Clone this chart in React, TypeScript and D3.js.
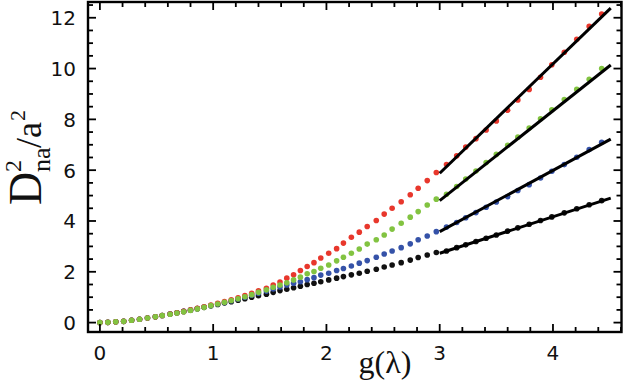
import React from "react";
import * as d3 from "d3";

const G = [0, 0.07, 0.14, 0.21, 0.28, 0.35, 0.42, 0.49, 0.55, 0.62, 0.68, 0.74, 0.80, 0.86, 0.92, 0.98, 1.04, 1.10, 1.16, 1.22, 1.28, 1.34, 1.40, 1.47, 1.53, 1.59, 1.65, 1.71, 1.77, 1.83, 1.89, 1.95, 2.02, 2.09, 2.15, 2.22, 2.29, 2.36, 2.44, 2.51, 2.58, 2.66, 2.74, 2.81, 2.89, 2.97, 3.06, 3.15, 3.23, 3.32, 3.41, 3.50, 3.60, 3.69, 3.79, 3.89, 3.99, 4.10, 4.21, 4.32, 4.43];

const RED = [0, 0.01, 0.03, 0.05, 0.09, 0.13, 0.18, 0.23, 0.28, 0.34, 0.39, 0.44, 0.50, 0.56, 0.62, 0.69, 0.76, 0.83, 0.90, 0.98, 1.06, 1.15, 1.25, 1.35, 1.48, 1.60, 1.75, 1.88, 2.05, 2.21, 2.36, 2.54, 2.73, 2.91, 3.13, 3.36, 3.56, 3.78, 4.02, 4.27, 4.50, 4.76, 5.03, 5.29, 5.59, 5.91,
  6.22, 6.57, 6.91, 7.24, 7.58, 7.94, 8.36, 8.76, 9.18, 9.66, 10.15, 10.64, 11.15, 11.66, 12.15];
const GREEN = [0, 0.01, 0.03, 0.05, 0.09, 0.13, 0.18, 0.23, 0.28, 0.33, 0.38, 0.43, 0.48, 0.54, 0.60, 0.67, 0.73, 0.80, 0.87, 0.94, 1.02, 1.10, 1.19, 1.29, 1.39, 1.48, 1.57, 1.68, 1.79, 1.92, 2.01, 2.14, 2.27, 2.43, 2.57, 2.73, 2.90, 3.09, 3.26, 3.45, 3.68, 3.91, 4.15, 4.37, 4.63, 4.86,
  5.05, 5.36, 5.65, 5.97, 6.30, 6.62, 6.98, 7.30, 7.66, 8.02, 8.38, 8.78, 9.18, 9.58, 10.0];
const BLUE = [0, 0.01, 0.03, 0.05, 0.09, 0.13, 0.18, 0.23, 0.28, 0.34, 0.39, 0.44, 0.49, 0.55, 0.61, 0.67, 0.73, 0.79, 0.86, 0.93, 1.00, 1.08, 1.16, 1.24, 1.32, 1.40, 1.48, 1.55, 1.61, 1.69, 1.77, 1.87, 1.94, 2.05, 2.13, 2.23, 2.34, 2.44, 2.57, 2.70, 2.82, 2.95, 3.10, 3.26, 3.41, 3.58,
  3.76, 3.94, 4.13, 4.33, 4.54, 4.75, 4.96, 5.20, 5.43, 5.69, 5.96, 6.22, 6.51, 6.81, 7.10];
const BLACK = [0, 0.01, 0.03, 0.05, 0.09, 0.13, 0.18, 0.23, 0.28, 0.34, 0.39, 0.44, 0.49, 0.55, 0.60, 0.66, 0.71, 0.77, 0.82, 0.88, 0.94, 1.00, 1.06, 1.12, 1.19, 1.26, 1.31, 1.37, 1.43, 1.50, 1.55, 1.61, 1.68, 1.75, 1.81, 1.88, 1.94, 2.02, 2.10, 2.19, 2.27, 2.36, 2.46, 2.56, 2.66, 2.76,
  2.82, 2.95, 3.06, 3.19, 3.32, 3.45, 3.60, 3.73, 3.87, 4.02, 4.16, 4.32, 4.48, 4.64, 4.80];

const FIT_G = [3.0, 4.51];
const FIT_RED = [5.88, 12.38];
const FIT_GREEN = [4.80, 10.14];
const FIT_BLUE = [3.58, 7.22];
const FIT_BLACK = [2.73, 4.90];

const X_TICKS = [0, 1, 2, 3, 4];
const Y_TICKS = [0, 2, 4, 6, 8, 10, 12];

const W = 623, H = 381;
const L = 88, R = 621.5, T = 2, B = 332;

export default function App() {
  const x = d3.scaleLinear().domain([-0.105, 4.605]).range([L, R]);
  const y = d3.scaleLinear().domain([-0.37, 12.62]).range([B, T]);

  const xMinor = d3.range(0, 4.61, 0.2).filter((v) => Math.abs(v - Math.round(v)) > 1e-6);
  const yMinor = d3.range(0.5, 12.6, 0.5).filter((v) => Math.abs(v / 2 - Math.round(v / 2)) > 1e-6);

  const series = [
    { vals: BLACK, color: "#111111" },
    { vals: BLUE, color: "#3552a8" },
    { vals: RED, color: "#e8372c" },
    { vals: GREEN, color: "#82c341" },
  ];
  const fits = [FIT_RED, FIT_GREEN, FIT_BLUE, FIT_BLACK];
  const line = d3.line<number>().x((_, i) => x(FIT_G[i])).y((d) => y(d));

  const tickFont = "DejaVu Sans, sans-serif";
  const serif = "Liberation Serif, Times New Roman, serif";

  return (
    <svg width={W} height={H} style={{ position: "absolute", left: 0, top: 0, background: "#fff" }}>
      {series.map((s, si) => (
        <g key={si} fill={s.color}>
          {s.vals.map((v, i) => (
            <circle key={i} cx={x(G[i])} cy={y(v)} r={2.8} />
          ))}
        </g>
      ))}
      {fits.map((f, i) => (
        <path key={i} d={line(f) || ""} stroke="#000" strokeWidth={3} fill="none" />
      ))}

      <g stroke="#000" strokeWidth={1.8}>
        {X_TICKS.map((t) => (
          <g key={"xt" + t}>
            <line x1={x(t)} x2={x(t)} y1={B} y2={B - 8} />
            <line x1={x(t)} x2={x(t)} y1={T} y2={T + 8} />
          </g>
        ))}
        {xMinor.map((t, i) => (
          <g key={"xm" + i}>
            <line x1={x(t)} x2={x(t)} y1={B} y2={B - 5} />
            <line x1={x(t)} x2={x(t)} y1={T} y2={T + 5} />
          </g>
        ))}
        {Y_TICKS.map((t) => (
          <g key={"yt" + t}>
            <line x1={L} x2={L + 8} y1={y(t)} y2={y(t)} />
            <line x1={R} x2={R - 8} y1={y(t)} y2={y(t)} />
          </g>
        ))}
        {yMinor.map((t, i) => (
          <g key={"ym" + i}>
            <line x1={L} x2={L + 5} y1={y(t)} y2={y(t)} />
            <line x1={R} x2={R - 5} y1={y(t)} y2={y(t)} />
          </g>
        ))}
      </g>
      <rect x={L} y={T} width={R - L} height={B - T} fill="none" stroke="#000" strokeWidth={2.4} />

      <g fontFamily={tickFont} fontSize={20} fill="#111">
        {X_TICKS.map((t) => (
          <text key={"xl" + t} x={x(t)} y={360} textAnchor="middle">{t}</text>
        ))}
        {Y_TICKS.map((t) => (
          <text key={"yl" + t} x={76} y={y(t) + 7.5} textAnchor="end">{t}</text>
        ))}
      </g>

      <text x={385} y={373} fontFamily={serif} fontSize={32} textAnchor="middle" fill="#111">g(λ)</text>
      <g transform="translate(41,205) rotate(-90)" fontFamily={serif} fill="#111">
        <text x={0} y={0} fontSize={46}>D</text>
        <text x={33} y={-20} fontSize={24}>2</text>
        <text x={33} y={9} fontSize={26}>na</text>
        <text x={57} y={0} fontSize={36}>/</text>
        <text x={67} y={0} fontSize={36}>a</text>
        <text x={84} y={-16} fontSize={22}>2</text>
      </g>
    </svg>
  );
}
